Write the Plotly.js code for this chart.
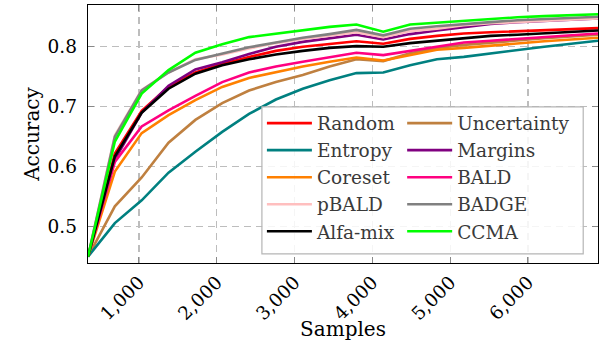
<!DOCTYPE html>
<html>
<head>
<meta charset="utf-8">
<script src="https://cdn.plot.ly/plotly-3.0.1.min.js"></script>
<style>html,body{margin:0;padding:0;background:#fff;}#chart{width:608px;height:341px;}</style>
</head>
<body>
<div id="chart"></div>
<script>
const samples = [345, 690, 1035, 1380, 1725, 2070, 2415, 2760, 3105, 3450, 3795, 4140, 4485, 4830, 5175, 5520, 5865, 6210, 6555, 6900];

const random      = [0.45, 0.622, 0.693, 0.733, 0.757, 0.771, 0.783, 0.793, 0.800, 0.805, 0.809, 0.805, 0.813, 0.818, 0.822, 0.824, 0.826, 0.828, 0.830, 0.831];
const uncertainty = [0.45, 0.534, 0.582, 0.640, 0.678, 0.706, 0.727, 0.741, 0.753, 0.767, 0.779, 0.776, 0.789, 0.798, 0.803, 0.807, 0.811, 0.814, 0.817, 0.820];
const entropy     = [0.45, 0.506, 0.544, 0.590, 0.625, 0.658, 0.688, 0.712, 0.730, 0.744, 0.756, 0.757, 0.769, 0.779, 0.783, 0.789, 0.795, 0.800, 0.805, 0.810];
const margins     = [0.45, 0.612, 0.690, 0.735, 0.762, 0.774, 0.788, 0.800, 0.808, 0.814, 0.820, 0.812, 0.821, 0.827, 0.833, 0.838, 0.841, 0.843, 0.845, 0.847];
const coreset     = [0.45, 0.592, 0.656, 0.686, 0.711, 0.733, 0.748, 0.758, 0.767, 0.775, 0.782, 0.777, 0.786, 0.795, 0.798, 0.802, 0.806, 0.809, 0.812, 0.815];
const bald        = [0.45, 0.608, 0.667, 0.694, 0.718, 0.741, 0.757, 0.767, 0.775, 0.783, 0.790, 0.786, 0.793, 0.801, 0.807, 0.810, 0.813, 0.816, 0.819, 0.822];
const pbald       = [0.45, 0.652, 0.728, 0.757, 0.779, 0.787, 0.797, 0.806, 0.813, 0.818, 0.824, 0.816, 0.826, 0.830, 0.836, 0.839, 0.841, 0.843, 0.845, 0.847];
const badge       = [0.45, 0.650, 0.727, 0.757, 0.778, 0.788, 0.799, 0.807, 0.815, 0.821, 0.828, 0.819, 0.830, 0.834, 0.838, 0.841, 0.844, 0.846, 0.848, 0.850];
const alfamix     = [0.45, 0.617, 0.690, 0.730, 0.755, 0.769, 0.779, 0.787, 0.793, 0.798, 0.801, 0.800, 0.806, 0.810, 0.815, 0.818, 0.820, 0.822, 0.825, 0.827];
const ccma        = [0.45, 0.642, 0.722, 0.761, 0.790, 0.804, 0.816, 0.822, 0.828, 0.833, 0.837, 0.825, 0.837, 0.840, 0.844, 0.847, 0.849, 0.851, 0.852, 0.854];

const seriesNames = ['Random', 'Uncertainty', 'Entropy', 'Margins', 'Coreset', 'BALD', 'pBALD', 'BADGE', 'Alfa-mix', 'CCMA'];
const seriesData = [random, uncertainty, entropy, margins, coreset, bald, pbald, badge, alfamix, ccma];
const seriesColors = ['#ff0000', '#bf8040', '#008080', '#800080', '#ff8000', '#ff0080', '#ffbfbf', '#808080', '#000000', '#00ff00'];

const xTickVals = [1000, 2000, 3000, 4000, 5000, 6000];
const xTickText = ['1,000', '2,000', '3,000', '4,000', '5,000', '6,000'];
const yTickVals = [0.5, 0.6, 0.7, 0.8];
const yTickText = ['0.5', '0.6', '0.7', '0.8'];

const FONT = 'DejaVu Serif, Liberation Serif, serif';

const traces = seriesNames.map((name, i) => ({
  x: samples,
  y: seriesData[i],
  name: name,
  type: 'scatter',
  mode: 'lines',
  line: {color: seriesColors[i], width: 2.6},
  legend: (i % 2 === 0) ? 'legend' : 'legend2'
}));

const axisCommon = {
  showline: true,
  linecolor: '#000',
  linewidth: 1.3,
  mirror: 'ticks',
  ticks: 'inside',
  ticklen: 6,
  tickcolor: '#888',
  tickwidth: 1,
  showgrid: true,
  gridcolor: '#bdbdbd',
  gridwidth: 1.1,
  griddash: '7px,5px',
  zeroline: false,
  tickfont: {family: FONT, size: 18.5, color: '#000'}
};

const legendCommon = {
  orientation: 'v',
  bgcolor: 'rgba(0,0,0,0)',
  borderwidth: 0,
  font: {family: FONT, size: 18.5, color: '#3a3a3a'},
  xanchor: 'left',
  yanchor: 'top',
  itemwidth: 45,
  tracegroupgap: 0
};

const layout = {
  width: 608,
  height: 341,
  margin: {l: 88, r: 10, t: 5, b: 78},
  paper_bgcolor: '#fff',
  plot_bgcolor: '#fff',
  font: {family: FONT, color: '#000'},
  showlegend: true,
  xaxis: Object.assign({}, axisCommon, {
    range: [345, 6900],
    tickvals: xTickVals,
    ticktext: xTickText,
    tickangle: -45,
    title: {text: 'Samples', font: {family: FONT, size: 20, color: '#000'}, standoff: 5}
  }),
  yaxis: Object.assign({}, axisCommon, {
    range: [0.4395, 0.8695],
    tickvals: yTickVals,
    ticktext: yTickText,
    ticklabelstandoff: 6,
    title: {text: 'Accuracy', font: {family: FONT, size: 20, color: '#000'}, standoff: 2}
  }),
  legend: Object.assign({}, legendCommon, {x: 0.341, y: 0.614}),
  legend2: Object.assign({}, legendCommon, {x: 0.616, y: 0.614}),
  shapes: [{
    type: 'rect', xref: 'paper', yref: 'paper',
    x0: 0.341, x1: 0.971, y0: 0.035, y1: 0.605,
    fillcolor: 'rgba(255,255,255,0.85)',
    line: {color: '#b5b5b5', width: 1.2},
    layer: 'above'
  }]
};

Plotly.newPlot('chart', traces, layout, {displayModeBar: false, staticPlot: true});
</script>
</body>
</html>
